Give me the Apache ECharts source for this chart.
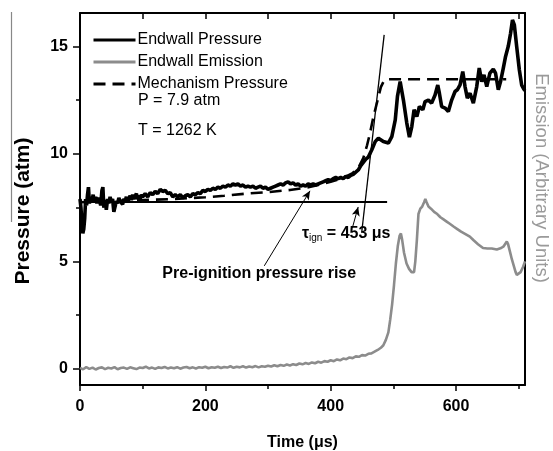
<!DOCTYPE html>
<html>
<head>
<meta charset="utf-8">
<script src="https://cdn.jsdelivr.net/npm/echarts@6/dist/echarts.min.js"></script>
<style>html,body{margin:0;padding:0;background:#fff}#c{width:553px;height:451px}</style>
</head>
<body>
<div id="c"></div>
<script>
// ---- data (time in microseconds, values in atm / arbitrary units) ----
const xTickLabels = [0, 200, 400, 600];
const xMinorTicks = [100, 300, 500, 700];
const xTopTicks = [100, 200, 300, 400, 500, 600, 700];
const yTickLabels = [0, 5, 10, 15];
const yMinorTicks = [2.5, 7.5, 12.5];

const endwallPressure = [
  [0,7.9],[1.5,7.5],[3,6.8],[4.5,6.3],[6,6.5],[7.5,7.0],[9,7.9],[10.5,7.6],[12,8.1],[13.5,8.45],
  [15,7.7],[17,8.0],[19,7.8],[21,8.1],[23,7.75],[25,8.0],[27,7.7],[29,7.95],[31,7.85],[33,7.6],
  [35,8.3],[36.5,8.45],[38,7.5],[40,7.85],[42,7.4],[44,7.9],[46,7.7],[48,8.0],[50,7.75],[52,7.9],
  [54,7.3],[56,7.25],[58,7.8],[60,7.7],[62,7.95],[64,7.8],[66,7.85],[68,7.65],[70,7.9],[72,7.8],
  [74,8.0],[76,7.75],[78,7.9],[80,8.05],[82,7.85],[84,8.1],[86,7.9],[88,7.95],[90,8.15],[92,7.9],
  [94,8.05],[96,7.9],[98,8.1],[100,8.0],[104,8.15],[108,8.0],[112,8.2],[116,8.1],[120,8.25],[124,8.15],
  [128,8.35],[132,8.25],[136,8.3],[140,8.15],[144,8.2],[148,8.0],[152,8.1],[156,8.0],[160,8.1],[164,7.95],
  [168,8.05],[172,8.1],[176,8.0],[180,8.15],[184,8.1],[188,8.2],[192,8.15],[196,8.3],[200,8.25],[204,8.35],
  [208,8.3],[212,8.4],[216,8.35],[220,8.45],[224,8.4],[228,8.5],[232,8.45],[236,8.55],[240,8.5],[244,8.6],
  [248,8.55],[252,8.6],[256,8.5],[260,8.55],[264,8.45],[268,8.5],[272,8.45],[276,8.5],[280,8.4],[284,8.45],
  [288,8.5],[292,8.4],[296,8.45],[300,8.35],[304,8.4],[308,8.45],[312,8.5],[316,8.55],[320,8.6],[324,8.55],
  [328,8.65],[332,8.7],[336,8.6],[340,8.65],[344,8.55],[348,8.6],[352,8.5],[356,8.55],[360,8.5],[364,8.6],
  [368,8.55],[372,8.6],[376,8.55],[380,8.6],[384,8.65],[388,8.7],[392,8.75],[396,8.8],[400,8.75],[404,8.85],
  [408,8.9],[412,8.85],[416,8.9],[420,8.85],[424,8.95],[428,8.9],[432,9.0],[436,9.05],[440,9.15],[444,9.25],
  [448,9.45],[452,9.6],[456,9.75],[460,9.85],[465.6,10.19],[471,10.57],[476,10.73],[484,10.57],[492,10.5],[497.5,10.8],
  [503,11.58],[506.5,12.67],[510.8,13.36],[516,12.5],[521.4,11.43],[525.6,10.78],[529.4,11.27],[533,12.05],[537.4,11.73],[541.5,12.2],
  [547,12.05],[550.6,12.43],[555.9,12.5],[561,12.36],[566.5,12.74],[570.8,13.2],[573.4,12.82],[577,12.2],[582.5,12.13],[587.7,11.97],
  [593,12.5],[598.4,12.9],[602,12.98],[606.4,13.21],[610.7,13.83],[614.3,13.13],[618,12.59],[622.3,12.82],[627.6,12.36],[633,13.13],
  [637,13.99],[641,13.36],[644.6,13.67],[649,13.13],[654,13.75],[659.4,13.94],[663,13.75],[667.4,12.98],[671,13.36],[675.4,13.99],
  [679,14.53],[683.3,15.0],[687,15.61],[690,16.23],[693,16.0],[696.7,15.0],[701,13.9],[704.7,13.2],[708.4,13.0],[710,12.95]
];

const mechanismPressure = [
  [0,7.75],[50,7.8],[100,7.85],[150,7.9],[200,7.98],[230,8.05],[265,8.15],[300,8.22],[335,8.32],[360,8.42],
  [380,8.55],[400,8.7],[420,8.88],[435,9.1],[445,9.4],[452,9.8],[458,10.4],[463,11.0],[468,11.7],[474,12.4],
  [480,13.1],[485,13.4],[490,13.47],[680,13.47]
];

const endwallEmission = [
  [0,0.05],[5,-0.02],[10,0.08],[15,0.0],[20,0.06],[25,-0.03],[30,0.04],[35,0.07],[40,-0.01],[45,0.05],
  [50,0.02],[55,0.08],[60,-0.02],[65,0.04],[70,0.06],[75,0.0],[80,0.07],[85,0.03],[90,-0.01],[95,0.06],
  [100,0.04],[105,0.1],[110,0.02],[115,0.06],[120,0.0],[125,0.07],[130,0.04],[135,0.09],[140,0.02],[145,0.06],
  [150,0.03],[155,0.08],[160,0.01],[165,0.06],[170,0.09],[175,0.03],[180,0.07],[185,0.02],[190,0.08],[195,0.05],
  [200,0.1],[205,0.03],[210,0.08],[215,0.05],[220,0.1],[225,0.04],[230,0.09],[235,0.06],[240,0.12],[245,0.05],
  [250,0.1],[255,0.07],[260,0.12],[265,0.06],[270,0.11],[275,0.08],[280,0.13],[285,0.07],[290,0.12],[295,0.1],
  [300,0.15],[305,0.11],[310,0.17],[315,0.12],[320,0.18],[325,0.14],[330,0.2],[335,0.16],[340,0.22],[345,0.18],
  [350,0.25],[355,0.21],[360,0.27],[365,0.23],[370,0.3],[375,0.26],[380,0.33],[385,0.29],[390,0.36],[395,0.33],
  [400,0.4],[405,0.36],[410,0.44],[415,0.4],[420,0.48],[425,0.45],[430,0.53],[435,0.5],[440,0.58],[445,0.56],
  [450,0.64],[455,0.62],[460,0.7],[465,0.72],[470,0.8],[475,0.88],[480,0.98],[484,1.1],[488,1.35],[492,1.7],
  [495,2.3],[498,3.0],[501,3.9],[504,4.9],[507,5.7],[510,6.2],[512,6.3],[514,6.0],[517,5.4],[521,4.9],
  [525,4.65],[529,4.5],[533,4.5],[535,5.0],[537.5,6.0],[540,7.2],[543,7.45],[546,7.55],[549,7.75],[551,7.9],
  [553,7.75],[556,7.55],[560,7.45],[565,7.3],[570,7.2],[575,7.05],[580,6.95],[585,6.85],[590,6.75],[596,6.62],
  [602,6.5],[608,6.38],[615,6.27],[622,6.15],[628,5.98],[635,5.8],[643,5.62],[650,5.6],[657,5.6],[665,5.55],
  [672,5.62],[676,5.7],[681,5.92],[683,5.8],[686,5.45],[689,5.1],[692,4.8],[695,4.5],[697,4.37],[700,4.4],
  [703,4.5],[707,4.75],[710,5.0]
];

// annotation geometry (data units)
const initialPressureLine = [[0, 7.77], [490, 7.77]];
const tangentLine = [[449.4, 6.33], [485.3, 15.53]];
const preIgnitionArrow = [[294, 4.79], [367, 8.28]];
const tauArrow = [[434.6, 6.56], [443.8, 7.53]];
const preIgnitionLabelPos = [286, 4.42];
const tauLabelPos = [424.7, 6.28];

const FONT = "'Liberation Sans', Arial, sans-serif";
const X_MIN = 0, X_MAX = 710, Y_MIN = -0.75, Y_MAX = 16.55;

const chart = echarts.init(document.getElementById('c'), null, {renderer: 'canvas'});

const axisLineStyle = {color: '#000', width: 2};

const option = {
  animation: false,
  backgroundColor: '#fff',
  grid: {left: 80, right: 28, top: 13, bottom: 66, containLabel: false, outerBoundsMode: 'none'},
  legend: {
    orient: 'vertical', left: 92, top: 32, padding: 0,
    itemWidth: 42, itemHeight: 14, itemGap: 6,
    data: [
      {name: 'Endwall Pressure', lineStyle: {width: 3}},
      {name: 'Endwall Emission', lineStyle: {width: 3}},
      {name: 'Mechanism Pressure', lineStyle: {width: 3}}
    ],
    itemStyle: {color: 'rgba(0,0,0,0)', borderColor: 'rgba(0,0,0,0)', borderWidth: 0, opacity: 0},
    textStyle: {fontFamily: FONT, fontSize: 16, color: '#000', padding: [0,0,0,-3]},
    selectedMode: false
  },
  xAxis: [
    {
      type: 'value', position: 'bottom', min: X_MIN, max: X_MAX,
      axisLine: {show: true, onZero: false, lineStyle: axisLineStyle},
      axisTick: {show: true, inside: false, length: 6, customValues: xTickLabels, lineStyle: {color: '#000', width: 1.5}},
      axisLabel: {customValues: xTickLabels, margin: 14, fontFamily: FONT, fontSize: 16, fontWeight: 'bold', color: '#000'},
      splitLine: {show: false},
      name: 'Time (μs)', nameLocation: 'middle', nameGap: 50,
      nameTextStyle: {fontFamily: FONT, fontSize: 16, fontWeight: 'bold', color: '#000'}
    },
    {
      type: 'value', position: 'bottom', min: X_MIN, max: X_MAX,
      axisLine: {show: false, onZero: false},
      axisTick: {show: true, inside: false, length: 4, customValues: xMinorTicks, lineStyle: {color: '#000', width: 1.5}},
      axisLabel: {show: false}, splitLine: {show: false}
    },
    {
      type: 'value', position: 'top', min: X_MIN, max: X_MAX,
      axisLine: {show: true, onZero: false, lineStyle: axisLineStyle},
      axisTick: {show: true, inside: true, length: 6, customValues: xTopTicks, lineStyle: {color: '#000', width: 1.5}},
      axisLabel: {show: false}, splitLine: {show: false}
    }
  ],
  yAxis: [
    {
      type: 'value', position: 'left', min: Y_MIN, max: Y_MAX,
      axisLine: {show: true, onZero: false, lineStyle: axisLineStyle},
      axisTick: {show: true, inside: false, length: 7, customValues: yTickLabels, lineStyle: {color: '#000', width: 1.5}},
      axisLabel: {customValues: yTickLabels, margin: 12, fontFamily: FONT, fontSize: 16, fontWeight: 'bold', color: '#000'},
      splitLine: {show: false}
    },
    {
      type: 'value', position: 'right', min: Y_MIN, max: Y_MAX,
      axisLine: {show: true, onZero: false, lineStyle: axisLineStyle},
      axisTick: {show: false}, axisLabel: {show: false}, splitLine: {show: false}
    },
    {
      type: 'value', position: 'left', min: Y_MIN, max: Y_MAX,
      axisLine: {show: false, onZero: false},
      axisTick: {show: true, inside: false, length: 4, customValues: yMinorTicks, lineStyle: {color: '#000', width: 1.5}},
      axisLabel: {show: false}, splitLine: {show: false}
    }
  ],
  graphic: [
    {type: 'line', shape: {x1: 11.5, y1: 12, x2: 11.5, y2: 222}, style: {stroke: '#888', lineWidth: 1.2}, silent: true},
    {type: 'text', x: 138, y: 101, style: {text: 'P = 7.9 atm', font: '16px ' + FONT, fill: '#000', verticalAlign: 'middle'}},
    {type: 'text', x: 138, y: 131, style: {text: 'T = 1262 K', font: '16px ' + FONT, fill: '#000', verticalAlign: 'middle'}},
    {type: 'text', x: 23, y: 211, rotation: Math.PI / 2,
      style: {text: 'Pressure (atm)', font: 'bold 21px ' + FONT, fill: '#000', align: 'center', verticalAlign: 'middle'}},
    {type: 'text', x: 541, y: 178, rotation: -Math.PI / 2,
      style: {text: 'Emission (Arbitrary Units)', font: '18.5px ' + FONT, fill: '#9a9a9a', align: 'center', verticalAlign: 'middle'}}
  ],
  series: [
    {
      name: 'Mechanism Pressure', type: 'line', xAxisIndex: 0, yAxisIndex: 0,
      data: mechanismPressure, symbol: 'none', showSymbol: false, z: 3,
      lineStyle: {color: '#000', width: 2.6, type: [12, 7]}, itemStyle: {color: '#000'}
    },
    {
      name: 'Endwall Emission', type: 'line', xAxisIndex: 0, yAxisIndex: 1,
      data: endwallEmission, symbol: 'none', showSymbol: false, z: 2,
      lineStyle: {color: '#8c8c8c', width: 2.6}, itemStyle: {color: '#8c8c8c'}
    },
    {
      name: 'Endwall Pressure', type: 'line', xAxisIndex: 0, yAxisIndex: 0,
      data: endwallPressure, symbol: 'none', showSymbol: false, z: 4,
      lineStyle: {color: '#000', width: 3.6}, itemStyle: {color: '#000'},
      markLine: {
        silent: true, animation: false, symbol: ['none', 'none'], label: {show: false},
        emphasis: {disabled: true},
        data: [
          [{coord: initialPressureLine[0], lineStyle: {color: '#000', width: 2.2, type: 'solid'}}, {coord: initialPressureLine[1]}],
          [{coord: tangentLine[0], lineStyle: {color: '#000', width: 1.3, type: 'solid'}}, {coord: tangentLine[1]}],
          [{coord: preIgnitionArrow[0], lineStyle: {color: '#000', width: 1, type: 'solid'}}, {coord: preIgnitionArrow[1], symbol: 'arrow', symbolSize: [6, 9]}],
          [{coord: tauArrow[0], lineStyle: {color: '#000', width: 1, type: 'solid'}}, {coord: tauArrow[1], symbol: 'arrow', symbolSize: [6, 9]}]
        ]
      },
      markPoint: {
        silent: true, animation: false, symbol: 'circle', symbolSize: 1,
        itemStyle: {color: 'rgba(0,0,0,0)'},
        data: [
          {coord: preIgnitionLabelPos, label: {show: true, position: 'inside', formatter: 'Pre-ignition pressure rise',
            fontFamily: FONT, fontSize: 16, fontWeight: 'bold', color: '#000'}},
          {coord: tauLabelPos, label: {show: true, position: 'inside', formatter: '{t|τ}{s|ign}{b| = 453 μs}',
            rich: {
              t: {fontFamily: FONT, fontSize: 16, fontWeight: 'bold', color: '#000'},
              s: {fontFamily: FONT, fontSize: 10, color: '#000', verticalAlign: 'bottom', padding: [9, 0, 0, 0]},
              b: {fontFamily: FONT, fontSize: 16, fontWeight: 'bold', color: '#000'}
            }}}
        ]
      }
    }
  ]
};

chart.setOption(option);
</script>
</body>
</html>
